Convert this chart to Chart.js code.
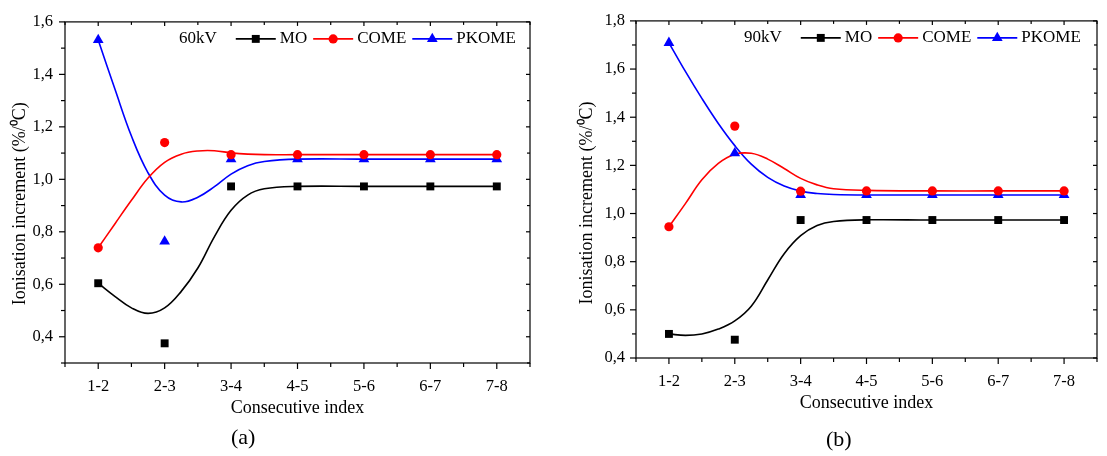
<!DOCTYPE html>
<html>
<head>
<title>Ionisation increment</title>
<script src="https://cdn.jsdelivr.net/npm/chart.js"></script>
<style>
  body { margin: 0; background: #fff; font-family: "Liberation Serif", serif; }
  .panel { position: absolute; top: 0; height: 456px; }
  .tag { position: absolute; font-size: 22px; color: #000; }
</style>
</head>
<body>
<div class="panel" style="left:0; width:555px;"><canvas id="chartA"></canvas></div>
<div class="panel" style="left:558px; width:549px;"><canvas id="chartB"></canvas></div>
<div class="tag" style="left:231px; top:424px;">(a)</div>
<div class="tag" style="left:826px; top:426px;">(b)</div>

<script>
// x categories
const categories = ['1-2', '2-3', '3-4', '4-5', '5-6', '6-7', '7-8'];

// measured points, 60 kV
const moA    = [0.604, 0.375, 0.973, 0.973, 0.973, 0.973, 0.973];
const comeA  = [0.739, 1.140, 1.094, 1.094, 1.094, 1.094, 1.094];
const pkomeA = [1.531, 0.763, 1.077, 1.077, 1.077, 1.077, 1.077];

// measured points, 90 kV
const moB    = [0.500, 0.476, 0.973, 0.973, 0.973, 0.973, 0.973];
const comeB  = [0.945, 1.363, 1.093, 1.094, 1.094, 1.094, 1.094];
const pkomeB = [1.709, 1.251, 1.077, 1.077, 1.077, 1.077, 1.077];

// fitted spline curves at these x positions
const fitX      = [1, 1.25, 1.5, 1.75, 2, 2.25, 2.5, 2.75, 3, 3.25, 3.5, 4, 5, 6, 7];
const moFitA    = [0.604, 0.554, 0.510, 0.489, 0.510, 0.573, 0.662, 0.782, 0.882, 0.940, 0.964, 0.973, 0.973, 0.973, 0.973];
const comeFitA  = [0.739, 0.830, 0.920, 1.005, 1.065, 1.096, 1.108, 1.109, 1.101, 1.096, 1.094, 1.094, 1.094, 1.094, 1.094];
const pkomeFitA = [1.531, 1.345, 1.165, 1.025, 0.940, 0.914, 0.932, 0.972, 1.020, 1.052, 1.068, 1.077, 1.077, 1.077, 1.077];
const moFitB    = [0.500, 0.494, 0.500, 0.520, 0.554, 0.615, 0.724, 0.833, 0.908, 0.950, 0.967, 0.974, 0.973, 0.973, 0.973];
const comeFitB  = [0.945, 1.041, 1.140, 1.208, 1.246, 1.250, 1.226, 1.187, 1.146, 1.119, 1.103, 1.096, 1.094, 1.094, 1.094];
const pkomeFitB = [1.709, 1.590, 1.478, 1.374, 1.282, 1.205, 1.150, 1.114, 1.093, 1.083, 1.079, 1.077, 1.077, 1.077, 1.077];

// y tick labels
const yTicksA = [0.4, 0.6, 0.8, 1.0, 1.2, 1.4, 1.6];
const yTicksB = [0.4, 0.6, 0.8, 1.0, 1.2, 1.4, 1.6, 1.8];

const FONT = '"Liberation Serif", "Times New Roman", serif';
const seriesStyle = {
  MO:    { color: '#000000', pointStyle: 'rect',     radius: 5.6 },
  COME:  { color: '#ff0000', pointStyle: 'circle',   radius: 4.6 },
  PKOME: { color: '#0000ff', pointStyle: 'triangle', radius: 6.2 }
};

function pts(xs, ys) { return ys.map((v, i) => ({ x: xs[i], y: v })); }
const catX = categories.map((c, i) => i + 1);

function buildDatasets(mo, come, pkome, moFit, comeFit, pkomeFit) {
  const out = [];
  [['MO', mo], ['COME', come], ['PKOME', pkome]].forEach(([name, vals]) => {
    const s = seriesStyle[name];
    out.push({
      label: name, inLegend: true, data: pts(catX, vals), showLine: false,
      pointStyle: s.pointStyle, pointRadius: s.radius, pointHoverRadius: s.radius,
      pointBackgroundColor: s.color, pointBorderColor: s.color, pointBorderWidth: 0,
      borderColor: s.color, backgroundColor: s.color
    });
  });
  [['MO', moFit], ['COME', comeFit], ['PKOME', pkomeFit]].forEach(([name, vals]) => {
    const s = seriesStyle[name];
    out.push({
      label: name + ' fit', data: pts(fitX, vals), showLine: true, pointRadius: 0,
      borderColor: s.color, borderWidth: 1.6, tension: 0.4, fill: false
    });
  });
  return out;
}

// box frame plus major/minor ticks (outer on bottom/left, inner on top/right)
const frameTicks = {
  id: 'frameTicks',
  afterDatasetsDraw(chart, args, opts) {
    const { ctx, chartArea: a, scales: { x, y } } = chart;
    const line = (x1, y1, x2, y2) => { ctx.beginPath(); ctx.moveTo(x1, y1); ctx.lineTo(x2, y2); ctx.stroke(); };
    ctx.save();
    ctx.strokeStyle = '#000';
    ctx.lineWidth = 1.2;
    ctx.strokeRect(a.left, a.top, a.right - a.left, a.bottom - a.top);
    for (let k = Math.round(x.min * 2); k <= Math.round(x.max * 2); k++) {
      const px = x.getPixelForValue(k / 2);
      const major = k % 2 === 0;
      line(px, a.bottom, px, a.bottom + (major ? 6 : 4));
      line(px, a.top, px, a.top + (major ? 4 : 3));
    }
    for (let k = Math.round(y.min * 10); k <= Math.round(y.max * 10); k++) {
      const py = y.getPixelForValue(k / 10);
      const major = opts.ticks.some(t => Math.round(t * 10) === k);
      line(a.left, py, a.left - (major ? 6 : 4), py);
      line(a.right, py, a.right - (major ? 4 : 3), py);
    }
    ctx.restore();
  }
};

function marker(ctx, style, r, cx, cy) {
  ctx.beginPath();
  if (style === 'rect') {
    const h = r * Math.SQRT1_2;
    ctx.rect(cx - h, cy - h, 2 * h, 2 * h);
  } else if (style === 'circle') {
    ctx.arc(cx, cy, r, 0, Math.PI * 2);
  } else {
    ctx.moveTo(cx, cy - r);
    ctx.lineTo(cx + r * Math.sin(Math.PI / 3), cy + r / 2);
    ctx.lineTo(cx - r * Math.sin(Math.PI / 3), cy + r / 2);
    ctx.closePath();
  }
  ctx.fill();
}

// legend drawn inside the plot, with the voltage as a leading label
const inlineLegend = {
  id: 'inlineLegend',
  afterDraw(chart, args, opts) {
    const { ctx, chartArea: a } = chart;
    ctx.save();
    ctx.font = '17px ' + FONT;
    ctx.textBaseline = 'middle';
    ctx.fillStyle = '#000';
    let cx = a.left + opts.x;
    const cy = a.top + opts.y;
    ctx.fillText(opts.title, cx, cy);
    cx += ctx.measureText(opts.title).width + 19;
    chart.data.datasets.filter(d => d.inLegend).forEach(d => {
      ctx.strokeStyle = d.borderColor;
      ctx.fillStyle = d.borderColor;
      ctx.lineWidth = 1.6;
      ctx.beginPath(); ctx.moveTo(cx, cy); ctx.lineTo(cx + 40, cy); ctx.stroke();
      marker(ctx, d.pointStyle, d.pointRadius, cx + 20, cy);
      ctx.fillStyle = '#000';
      ctx.fillText(d.label, cx + 44, cy);
      cx += 44 + ctx.measureText(d.label).width + 6;
    });
    ctx.restore();
  }
};

function makeChart(id, cfg) {
  return new Chart(document.getElementById(id), {
    type: 'line',
    data: { datasets: buildDatasets(...cfg.series) },
    plugins: [frameTicks, inlineLegend],
    options: {
      responsive: true,
      maintainAspectRatio: false,
      animation: false,
      layout: { padding: { top: cfg.top, right: cfg.right, left: 0, bottom: 0 } },
      plugins: {
        legend: { display: false },
        tooltip: { enabled: false },
        frameTicks: { ticks: cfg.yTicks },
        inlineLegend: { title: cfg.title, x: cfg.legendX, y: 17 }
      },
      scales: {
        x: {
          type: 'linear', min: 0.5, max: 7.5,
          grid: { display: false, drawTicks: false }, border: { display: false },
          afterBuildTicks: s => { s.ticks = catX.map(v => ({ value: v })); },
          afterFit: s => { s.height = cfg.xHeight; },
          ticks: {
            padding: cfg.xPad, color: '#000', font: { family: FONT, size: 16.5 }, maxRotation: 0,
            callback: v => categories[v - 1]
          },
          title: {
            display: true, text: 'Consecutive index', color: '#000',
            font: { family: FONT, size: 18 }, padding: { top: 0, bottom: cfg.xTitlePad }
          }
        },
        y: {
          min: cfg.yMin, max: cfg.yMax,
          grid: { display: false, drawTicks: false }, border: { display: false },
          afterBuildTicks: s => { s.ticks = cfg.yTicks.map(v => ({ value: v })); },
          afterFit: s => { s.width = cfg.yWidth; },
          ticks: {
            padding: cfg.yPad, color: '#000', font: { family: FONT, size: 16.5 },
            callback: v => v.toFixed(1).replace('.', ',')
          },
          title: {
            display: true, text: 'Ionisation increment (%/\u2070C)' + '\u00a0'.repeat(cfg.yTitleShift), color: '#000',
            font: { family: FONT, size: 18 }, padding: { top: cfg.yTitlePad, bottom: 0 }
          }
        }
      }
    }
  });
}

makeChart('chartA', {
  series: [moA, comeA, pkomeA, moFitA, comeFitA, pkomeFitA],
  yTicks: yTicksA, yMin: 0.3, yMax: 1.6,
  title: '60kV', legendX: 114,
  top: 16, right: 25, yWidth: 65, xHeight: 93,
  xPad: 14, yPad: 12, xTitlePad: 37, yTitlePad: 9, yTitleShift: 5
});

makeChart('chartB', {
  series: [moB, comeB, pkomeB, moFitB, comeFitB, pkomeFitB],
  yTicks: yTicksB, yMin: 0.4, yMax: 1.8,
  title: '90kV', legendX: 108,
  top: 15, right: 10, yWidth: 78, xHeight: 98,
  xPad: 14, yPad: 11, xTitlePad: 42, yTitlePad: 18, yTitleShift: 6
});
</script>
</body>
</html>
